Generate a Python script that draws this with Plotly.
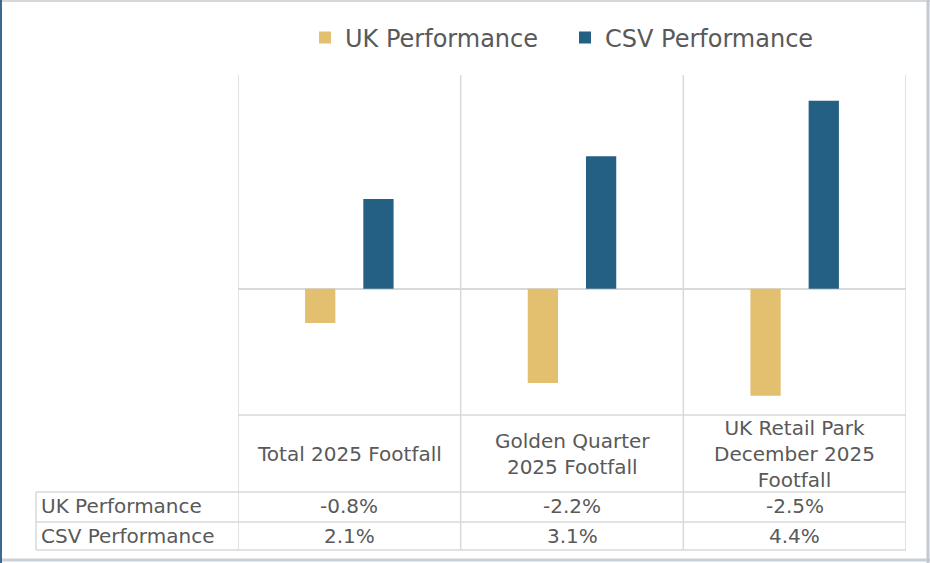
import plotly.graph_objects as go

categories = ["Total 2025 Footfall", "Golden Quarter<br>2025 Footfall",
              "UK Retail Park<br>December 2025<br>Footfall"]
series_names = ["UK Performance", "CSV Performance"]
uk_values = [-0.8, -2.2, -2.5]
csv_values = [2.1, 3.1, 4.4]
value_labels = {"UK Performance": ["-0.8%", "-2.2%", "-2.5%"],
                "CSV Performance": ["2.1%", "3.1%", "4.4%"]}
colors = {"UK Performance": "#E3BF70", "CSV Performance": "#245F84"}

W, H = 930, 563
TXT = "#595959"
GRID = "#D9D9D9"
FONT = "DejaVu Sans"

def px(x):
    return x / W

def py(y):
    return 1 - y / H

plot_left, plot_right, plot_top, plot_bottom = 238, 906, 75, 415
table_left = 36
header_bottom, row1_bottom, row2_bottom = 492, 522, 550

fig = go.Figure()
for name, vals in zip(series_names, [uk_values, csv_values]):
    fig.add_trace(go.Bar(name=name, x=categories, y=vals,
                         marker=dict(color=colors[name], line=dict(width=0)),
                         hoverinfo="skip"))

shapes = []
n = len(categories)
for i in range(n + 1):
    shapes.append(dict(type="line", xref="x", yref="paper",
                       x0=i - 0.5, x1=i - 0.5, y0=py(plot_top), y1=py(row2_bottom),
                       line=dict(color=GRID, width=1.5)))
shapes.append(dict(type="line", xref="paper", yref="paper", x0=px(plot_left), x1=px(plot_right),
                   y0=py(plot_bottom), y1=py(plot_bottom), line=dict(color=GRID, width=1.5)))
for yy in [header_bottom, row1_bottom, row2_bottom]:
    shapes.append(dict(type="line", xref="paper", yref="paper", x0=px(table_left), x1=px(plot_right),
                       y0=py(yy), y1=py(yy), line=dict(color=GRID, width=1.5)))
shapes.append(dict(type="line", xref="paper", yref="paper", x0=px(table_left), x1=px(table_left),
                   y0=py(header_bottom), y1=py(row2_bottom), line=dict(color=GRID, width=1.5)))
# outer frame
shapes.append(dict(type="line", xref="paper", yref="paper", x0=0, x1=1, y0=py(1), y1=py(1),
                   line=dict(color="#D4D8DC", width=2)))
shapes.append(dict(type="line", xref="paper", yref="paper", x0=0, x1=1, y0=py(560), y1=py(560),
                   line=dict(color="#C9D2DA", width=3)))
shapes.append(dict(type="line", xref="paper", yref="paper", x0=px(928), x1=px(928), y0=0, y1=1,
                   line=dict(color="#BFCAD4", width=3)))
shapes.append(dict(type="line", xref="paper", yref="paper", x0=px(1), x1=px(1), y0=0, y1=1,
                   line=dict(color="#3C6A8E", width=2)))

annotations = []
for c in categories:
    annotations.append(dict(x=c, xref="x", y=py(454), yref="paper", text=c, showarrow=False,
                            xanchor="center", yanchor="middle", align="center",
                            font=dict(family=FONT, size=20, color=TXT)))
row_y = {"UK Performance": 506, "CSV Performance": 536}
for name in series_names:
    annotations.append(dict(x=px(39), xref="paper", y=py(row_y[name]), yref="paper", text=name,
                            showarrow=False, xanchor="left", yanchor="middle",
                            font=dict(family=FONT, size=20, color=TXT)))
    for c, lab in zip(categories, value_labels[name]):
        annotations.append(dict(x=c, xref="x", y=py(row_y[name]), yref="paper", text=lab,
                                showarrow=False, xanchor="center", yanchor="middle",
                                font=dict(family=FONT, size=20, color=TXT)))

fig.update_layout(
    width=W, height=H,
    margin=dict(l=0, r=0, t=0, b=0),
    paper_bgcolor="white", plot_bgcolor="white",
    barmode="group", bargap=0.477, bargroupgap=0.48,
    xaxis=dict(domain=[px(plot_left), px(plot_right)], showticklabels=False, showgrid=False,
               zeroline=False, showline=False, range=[-0.5, n - 0.5], fixedrange=True),
    yaxis=dict(domain=[py(plot_bottom), py(plot_top)], range=[-2.95, 5], showticklabels=False,
               showgrid=False, zeroline=True, zerolinecolor=GRID, zerolinewidth=1.5,
               showline=False, fixedrange=True),
    showlegend=True,
    legend=dict(orientation="h", x=px(305), xanchor="left", y=py(38), yanchor="middle",
                font=dict(family=FONT, size=24, color=TXT), bgcolor="rgba(0,0,0,0)",
                entrywidth=215, entrywidthmode="pixels",
                itemclick=False, itemdoubleclick=False),
    shapes=shapes, annotations=annotations,
)

fig.write_html("out.html")
